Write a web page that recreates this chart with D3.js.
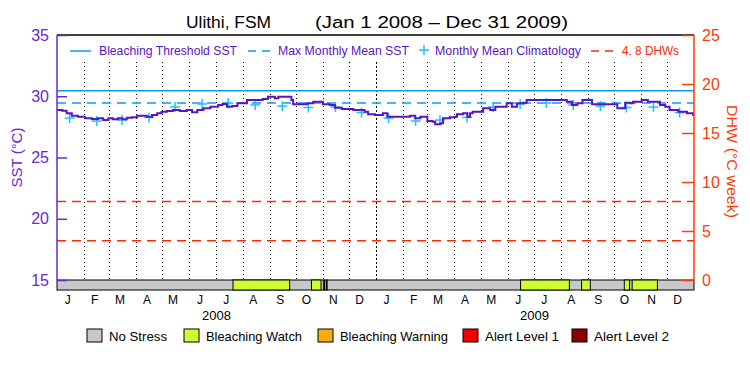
<!DOCTYPE html>
<html>
<head>
<meta charset="utf-8">
<script src="https://cdn.jsdelivr.net/npm/d3@7"></script>
<style>
  body { margin: 0; background: #fff; }
  text { font-family: "Liberation Sans", "DejaVu Sans", sans-serif; }
</style>
</head>
<body>
<div id="chart"></div>
<script>
// daily SST: day offset from Jan 1 2008, value in deg C
var sstDay = [0, 6, 11, 17, 24, 32, 40, 47, 53, 59, 64, 70, 75, 80, 86, 92, 98, 103, 109, 115,
    120, 126, 133, 141, 149, 155, 161, 168, 176, 185, 190, 195, 201, 207, 218, 230, 236, 242, 250, 254,
    265, 269, 271, 281, 287, 294, 302, 305, 313, 319, 327, 334, 340, 348, 353, 357, 365, 374, 379, 394,
    405, 411, 417, 422, 425, 431, 434, 440, 443, 451, 457, 459, 466, 471, 474, 477, 485, 489, 497, 503,
    516, 522, 528, 535, 539, 574, 585, 591, 597, 603, 608, 614, 638, 643, 650, 652, 658, 661, 667, 671,
    678, 689, 692, 698, 703, 709, 713, 723, 730]
var sstValue = [28.88, 28.82, 28.61, 28.41, 28.33, 28.20, 28.14, 28.20, 28.06, 28.20, 28.12, 28.20, 28.12, 28.25, 28.28, 28.41, 28.41, 28.33, 28.47, 28.61,
    28.74, 28.80, 28.88, 28.80, 28.88, 28.69, 28.88, 29.02, 29.15, 29.29, 29.37, 29.15, 29.20, 29.42, 29.69, 29.69, 29.78, 29.96, 29.83, 29.96,
    29.96, 29.69, 29.34, 29.34, 29.42, 29.56, 29.56, 29.34, 29.29, 29.07, 28.96, 28.96, 28.88, 28.88, 28.74, 28.53, 28.47, 28.61, 28.33, 28.33,
    28.41, 28.20, 28.33, 28.33, 27.98, 27.92, 27.71, 27.79, 28.20, 28.28, 28.33, 28.53, 28.61, 28.33, 28.61, 28.74, 28.74, 29.02, 28.88, 29.15,
    29.42, 29.15, 29.42, 29.47, 29.69, 29.69, 29.56, 29.29, 29.42, 29.69, 29.69, 29.34, 29.34, 29.02, 29.02, 29.47, 29.42, 29.56, 29.56, 29.69,
    29.56, 29.56, 29.29, 29.15, 28.88, 28.88, 28.74, 28.61, 28.39]

// monthly mean climatology (Jan..Dec)
var climatology = [28.22, 27.98, 28.06, 28.27, 29.12, 29.37, 29.45, 29.29, 29.20, 29.08, 29.12, 28.67]
var mmm = 29.45
var threshold = 30.45
var dhwLevels = [4, 8]

// stress periods: [start day, end day, level]; everything else is No Stress
var stressPeriods = [
    [202, 267, 1], [292, 303, 1], [306, 307, 1], [309, 310, 1],
    [532, 588, 1], [602, 612, 1], [651, 657, 1], [660, 689, 1]
]
var stressNames = ["No Stress", "Bleaching Watch", "Bleaching Warning", "Alert Level 1", "Alert Level 2"]
var stressColors = ["#c8c8c8", "#ccff33", "#ffaa11", "#f00000", "#8c0000"]
var monthLabels = ["J", "F", "M", "A", "M", "J", "J", "A", "S", "O", "N", "D"]
var years = [2008, 2009]

const W = 750, H = 375
const pLeft = 57, pRight = 694, pTop = 35, pBottom = 280, barH = 10
const purple = "#5a14c8", axisPurple = "#6428d8", blue = "#0a9cf5",
    cyan = "#1ec0ff", red = "#ff2a00", orange = "#ff3c00"

var svg = d3.select("#chart").append("svg")
    .attr("width", W).attr("height", H)

var start = new Date(2008, 0, 1)
var x = d3.scaleTime().domain([start, new Date(2010, 0, 1)]).range([pLeft, pRight])
var y = d3.scaleLinear().domain([15, 35]).range([pBottom, pTop])
var yDhw = d3.scaleLinear().domain([0, 25]).range([pBottom, pTop])
function dayDate(d) { return d3.timeDay.offset(start, d) }

// title
svg.append("text").attr("x", 186).attr("y", 28).attr("font-size", 16)
    .attr("textLength", 85).attr("lengthAdjust", "spacingAndGlyphs").text("Ulithi, FSM")
svg.append("text").attr("x", 315).attr("y", 28).attr("font-size", 16)
    .attr("textLength", 253).attr("lengthAdjust", "spacingAndGlyphs").text("(Jan 1 2008 \u2013 Dec 31 2009)")

// month boundaries
var months = d3.timeMonth.range(d3.timeMonth.offset(start, 1), new Date(2010, 0, 1))
svg.append("g").selectAll("line").data(months).enter().append("line")
    .attr("x1", d => Math.round(x(d)) + 0.5).attr("x2", d => Math.round(x(d)) + 0.5)
    .attr("y1", 62).attr("y2", pBottom)
    .attr("stroke", "#000").attr("stroke-width", 1)
    .attr("stroke-dasharray", d => d.getMonth() == 0 ? "2,2" : "1,3")

// reference lines
svg.append("line").attr("x1", pLeft).attr("x2", pRight)
    .attr("y1", y(threshold)).attr("y2", y(threshold))
    .attr("stroke", blue).attr("stroke-width", 1.5)
svg.append("line").attr("x1", pLeft).attr("x2", pRight)
    .attr("y1", y(mmm)).attr("y2", y(mmm))
    .attr("stroke", blue).attr("stroke-width", 1.5).attr("stroke-dasharray", "9,6")
svg.append("g").selectAll("line").data(dhwLevels).enter().append("line")
    .attr("x1", pLeft).attr("x2", pRight)
    .attr("y1", d => yDhw(d)).attr("y2", d => yDhw(d))
    .attr("stroke", red).attr("stroke-width", 1.5).attr("stroke-dasharray", "9,6")

// climatology crosses
var climPts = []
years.forEach(function (yr) {
    climatology.forEach(function (v, m) {
        climPts.push({ date: new Date(yr, m, 15, 12), v: v })
    })
})
var cross = svg.append("g").selectAll("g").data(climPts).enter().append("g")
    .attr("transform", d => `translate(${x(d.date)},${y(d.v)})`)
cross.append("line").attr("x1", -5).attr("x2", 5).attr("stroke", cyan).attr("stroke-width", 1.5)
cross.append("line").attr("y1", -5).attr("y2", 5).attr("stroke", cyan).attr("stroke-width", 1.5)

// SST line
var sst = sstDay.map((d, i) => ({ date: dayDate(d), v: sstValue[i] }))
svg.append("path").datum(sst)
    .attr("d", d3.line().x(d => x(d.date)).y(d => y(d.v)).curve(d3.curveStepAfter))
    .attr("fill", "none").attr("stroke", purple).attr("stroke-width", 2)

// stress bar
svg.append("rect").attr("x", pLeft).attr("y", pBottom).attr("width", pRight - pLeft).attr("height", barH)
    .attr("fill", stressColors[0]).attr("stroke", "#000").attr("stroke-width", 1)
svg.append("g").selectAll("rect").data(stressPeriods).enter().append("rect")
    .attr("x", d => x(dayDate(d[0]))).attr("y", pBottom)
    .attr("width", d => x(dayDate(d[1])) - x(dayDate(d[0]))).attr("height", barH)
    .attr("fill", d => stressColors[d[2]]).attr("stroke", "#000").attr("stroke-width", 1)

// frame top
svg.append("line").attr("x1", pLeft).attr("x2", pRight).attr("y1", pTop).attr("y2", pTop)
    .attr("stroke", "#000").attr("stroke-width", 1.5)

// left axis
var gl = svg.append("g").attr("transform", `translate(${pLeft},0)`)
gl.call(d3.axisLeft(y).tickValues(d3.range(15, 36)).tickSize(-6).tickFormat(""))
gl.call(d3.axisLeft(y).tickValues(d3.range(15, 36, 5)).tickSize(-10).tickPadding(8))
gl.selectAll("path, line").attr("stroke", axisPurple).attr("stroke-width", 1.5)
gl.selectAll("text").attr("fill", axisPurple).attr("font-size", 16)
    .attr("font-family", "Liberation Sans, sans-serif")

// right axis
var gr = svg.append("g").attr("transform", `translate(${pRight},0)`)
gr.call(d3.axisRight(yDhw).tickValues(d3.range(0, 26)).tickSize(-6).tickFormat(""))
gr.call(d3.axisRight(yDhw).tickValues(d3.range(0, 26, 5)).tickSize(-12).tickPadding(8))
gr.selectAll("path, line").attr("stroke", orange).attr("stroke-width", 1.5)
gr.selectAll("text").attr("fill", orange).attr("font-size", 16)
    .attr("font-family", "Liberation Sans, sans-serif")
gl.selectAll(".domain").attr("d", `M0,${pBottom}V${pTop}`)
gr.selectAll(".domain").attr("d", `M0,${pBottom}V${pTop}`)

// axis titles
svg.append("text").attr("transform", `translate(22,${(pTop + pBottom) / 2}) rotate(-90)`)
    .attr("text-anchor", "middle").attr("font-size", 15).attr("fill", axisPurple)
    .text("SST (\u00b0C)")
svg.append("text").attr("transform", `translate(727,${(pTop + pBottom) / 2 + 4}) rotate(90)`)
    .attr("text-anchor", "middle").attr("font-size", 15).attr("fill", orange)
    .attr("textLength", 113).attr("lengthAdjust", "spacingAndGlyphs")
    .text("DHW (\u00b0C week)")

// month labels and years
var monthPts = []
years.forEach(function (yr) {
    monthLabels.forEach(function (m, i) { monthPts.push({ date: new Date(yr, i, 15, 12), label: m }) })
})
svg.append("g").selectAll("text").data(monthPts).enter().append("text")
    .attr("x", d => x(d.date) - 2).attr("y", 304).attr("text-anchor", "middle")
    .attr("font-size", 12).text(d => d.label)
svg.append("g").selectAll("text").data(years).enter().append("text")
    .attr("x", d => x(new Date(d, 6, 2))).attr("y", 320).attr("text-anchor", "middle")
    .attr("font-size", 13).text(d => d)

// top legend
var lg = svg.append("g").attr("font-size", 12).attr("fill", purple)
lg.append("line").attr("x1", 70).attr("x2", 91).attr("y1", 51).attr("y2", 51).attr("stroke", blue).attr("stroke-width", 1.5)
lg.append("text").attr("x", 99).attr("y", 55).attr("textLength", 138).attr("lengthAdjust", "spacingAndGlyphs").text("Bleaching Threshold SST")
lg.append("line").attr("x1", 248).attr("x2", 272).attr("y1", 51).attr("y2", 51).attr("stroke", blue).attr("stroke-width", 1.5).attr("stroke-dasharray", "8,6")
lg.append("text").attr("x", 278).attr("y", 55).attr("textLength", 131).attr("lengthAdjust", "spacingAndGlyphs").text("Max Monthly Mean SST")
lg.append("line").attr("x1", 419).attr("x2", 429).attr("y1", 50).attr("y2", 50).attr("stroke", cyan).attr("stroke-width", 1.5)
lg.append("line").attr("x1", 424).attr("x2", 424).attr("y1", 45).attr("y2", 55).attr("stroke", cyan).attr("stroke-width", 1.5)
lg.append("text").attr("x", 435).attr("y", 55).attr("textLength", 146).attr("lengthAdjust", "spacingAndGlyphs").text("Monthly Mean Climatology")
lg.append("line").attr("x1", 591).attr("x2", 615).attr("y1", 51).attr("y2", 51).attr("stroke", red).attr("stroke-width", 1.5).attr("stroke-dasharray", "8,6")
lg.append("text").attr("x", 622).attr("y", 55).attr("fill", red).attr("textLength", 57).attr("lengthAdjust", "spacingAndGlyphs").text("4, 8 DHWs")

// bottom legend
var legendX = [87, 184, 318, 463, 572]
var textW = [58, 96, 108, 74, 75]
var bl = svg.append("g").selectAll("g").data(stressNames).enter().append("g")
    .attr("transform", (d, i) => `translate(${legendX[i]},329)`)
bl.append("rect").attr("width", 15).attr("height", 13)
    .attr("fill", (d, i) => stressColors[i]).attr("stroke", "#000").attr("stroke-width", 1)
bl.append("text").attr("x", 22).attr("y", 12).attr("font-size", 13)
    .attr("textLength", (d, i) => textW[i]).attr("lengthAdjust", "spacingAndGlyphs")
    .text(d => d)
</script>
</body>
</html>
